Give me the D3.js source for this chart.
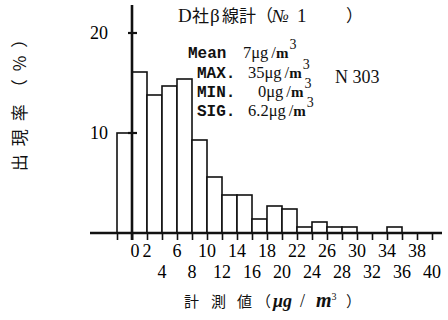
<!DOCTYPE html>
<html>
<head>
<meta charset="utf-8">
<script src="https://cdn.jsdelivr.net/npm/d3@7"></script>
<style>
  body { margin: 0; background: #fff; }
  svg { display: block; }
  .num { font-family: "Liberation Serif", "DejaVu Serif", serif; }
  .mono { font-family: "Liberation Mono", "DejaVu Sans Mono", monospace; font-weight: bold; }
  .cjk { font-family: "Noto Sans CJK JP", sans-serif; }
</style>
</head>
<body>
<svg id="chart" width="448" height="320"></svg>
<script>
// histogram of β-ray meter readings, bin lower edges (µg/m³) and share (%)
const binStarts = [-2, 0, 2, 4, 6, 8, 10, 12, 14, 16, 18, 20, 22, 24, 26, 28, 30, 32, 34, 36, 38];
const shares = [10, 16.1, 13.8, 14.7, 15.4, 9.3, 5.6, 3.8, 3.8, 1.4, 2.7, 2.4, 0.6, 1.1, 0.6, 0.6, 0, 0, 0.6, 0, 0];
const binWidth = 2;

const xTicks = d3.range(-2, 41, 2);
const xLabelsTop = [0, 2, 6, 10, 14, 18, 22, 26, 30, 34, 38];
const xLabelsBottom = [4, 8, 12, 16, 20, 24, 28, 32, 36, 40];
const yTicks = [10, 20];

const statNames = ["Mean", "MAX.", "MIN.", "SIG."];
const statValues = ["7", "35", "0", "6.2"];
const sampleCount = "N 303";

const svg = d3.select("#chart");

const x = d3.scaleLinear().domain([-2, 40]).range([117, 432]);
const y = d3.scaleLinear().domain([0, 20]).range([233, 33]);

// bars
svg.append("g")
  .selectAll("rect")
  .data(binStarts.map((s, i) => ({ s, v: shares[i] })).filter(d => d.v > 0))
  .join("rect")
  .attr("x", d => x(d.s))
  .attr("y", d => y(d.v))
  .attr("width", d => x(d.s + binWidth) - x(d.s))
  .attr("height", d => y(0) - y(d.v))
  .attr("fill", "#fff")
  .attr("stroke", "#111")
  .attr("stroke-width", 1.6);

// x axis: ticks only, labels placed in two rows below
const xAxis = svg.append("g")
  .attr("transform", `translate(0,${y(0)})`)
  .call(d3.axisBottom(x).tickValues(xTicks).tickSize(7).tickSizeOuter(0).tickFormat(""));
xAxis.select(".domain").remove();
xAxis.selectAll(".tick line").attr("stroke", "#111").attr("stroke-width", 1.6);

svg.append("line")
  .attr("x1", 90).attr("x2", 442)
  .attr("y1", y(0)).attr("y2", y(0))
  .attr("stroke", "#111").attr("stroke-width", 2.5);

svg.append("g").selectAll("text")
  .data(xLabelsTop)
  .join("text")
  .attr("class", "num")
  .attr("x", d => x(d) + (d === 0 ? 3 : 0))
  .attr("y", 257)
  .attr("text-anchor", "middle")
  .attr("font-size", 18)
  .text(d => d);

svg.append("g").selectAll("text")
  .data(xLabelsBottom)
  .join("text")
  .attr("class", "num")
  .attr("x", d => x(d))
  .attr("y", 278)
  .attr("text-anchor", "middle")
  .attr("font-size", 18)
  .text(d => d);

// y axis
const yAxis = svg.append("g")
  .attr("transform", `translate(${x(0)},0)`)
  .call(d3.axisLeft(y).tickValues(yTicks).tickSize(0).tickFormat(""));
yAxis.select(".domain").remove();

svg.append("line")
  .attr("x1", x(0)).attr("x2", x(0))
  .attr("y1", 5).attr("y2", y(0) + 7)
  .attr("stroke", "#111").attr("stroke-width", 2.6);

svg.append("g").selectAll("line")
  .data(yTicks)
  .join("line")
  .attr("x1", x(0) - 4).attr("x2", x(0) + 5)
  .attr("y1", d => y(d)).attr("y2", d => y(d))
  .attr("stroke", "#111").attr("stroke-width", 2.2);

svg.append("g").selectAll("text")
  .data(yTicks)
  .join("text")
  .attr("class", "num")
  .attr("x", 108)
  .attr("y", d => y(d) + 6)
  .attr("text-anchor", "end")
  .attr("font-size", 18)
  .text(d => d);

// title
const title = svg.append("text").attr("y", 22).attr("font-size", 17).attr("fill", "#111");
title.append("tspan").attr("class", "num").attr("x", 178).attr("font-size", 19).text("D");
title.append("tspan").attr("class", "cjk").attr("x", 192).text("社");
title.append("tspan").attr("class", "num").attr("x", 210).attr("font-size", 19).text("β");
title.append("tspan").attr("class", "cjk").attr("x", 222).text("線計（");
title.append("tspan").attr("class", "num").attr("x", 272).attr("font-size", 18).attr("font-style", "italic").text("№");
title.append("tspan").attr("class", "num").attr("x", 297).attr("font-size", 19).text("1");
title.append("tspan").attr("class", "cjk").attr("x", 346).text("）");

// statistics block
const statX = [188, 197, 197, 197];
const valX = [243, 248, 258, 248];
const statY = [58, 78, 97, 116];

statNames.forEach((name, i) => {
  svg.append("text")
    .attr("class", "mono")
    .attr("x", statX[i]).attr("y", statY[i])
    .attr("font-size", 16)
    .attr("fill", "#111")
    .text(name);

  const t = svg.append("text")
    .attr("class", "num")
    .attr("x", valX[i]).attr("y", statY[i])
    .attr("font-size", 16.5)
    .attr("fill", "#111");
  t.append("tspan").text(statValues[i] + "μg");
  t.append("tspan").attr("dx", 3).text("/");
  t.append("tspan").attr("font-weight", "bold").attr("font-size", 15).text("m");
  t.append("tspan").attr("dy", -9).attr("dx", 1).attr("font-size", 14).text("3");
});

svg.append("text")
  .attr("class", "num")
  .attr("x", 335).attr("y", 83)
  .attr("font-size", 18)
  .attr("fill", "#111")
  .attr("xml:space", "preserve")
  .text(sampleCount);

// x axis title
const xt = svg.append("text").attr("y", 307).attr("font-size", 15).attr("fill", "#111");
xt.append("tspan").attr("class", "cjk").attr("x", 184).text("計");
xt.append("tspan").attr("class", "cjk").attr("x", 211).text("測");
xt.append("tspan").attr("class", "cjk").attr("x", 237).text("値");
xt.append("tspan").attr("class", "cjk").attr("x", 256).text("（");
xt.append("tspan").attr("class", "num").attr("x", 273).attr("font-size", 18)
  .attr("font-style", "italic").attr("font-weight", "bold").text("μg");
xt.append("tspan").attr("class", "num").attr("x", 300).attr("font-size", 18).text("/");
xt.append("tspan").attr("class", "num").attr("x", 316).attr("font-size", 20)
  .attr("font-style", "italic").attr("font-weight", "bold").text("m");
xt.append("tspan").attr("class", "num").attr("dy", -7).attr("font-size", 10).text("3");
xt.append("tspan").attr("class", "cjk").attr("x", 346).attr("dy", 7).text("）");

// y axis title, rotated
svg.append("text")
  .attr("class", "cjk")
  .attr("transform", "translate(26,97) rotate(-90)")
  .attr("text-anchor", "middle")
  .attr("font-size", 17)
  .attr("letter-spacing", 8)
  .attr("fill", "#111")
  .text("出現率（%）");
</script>
</body>
</html>
